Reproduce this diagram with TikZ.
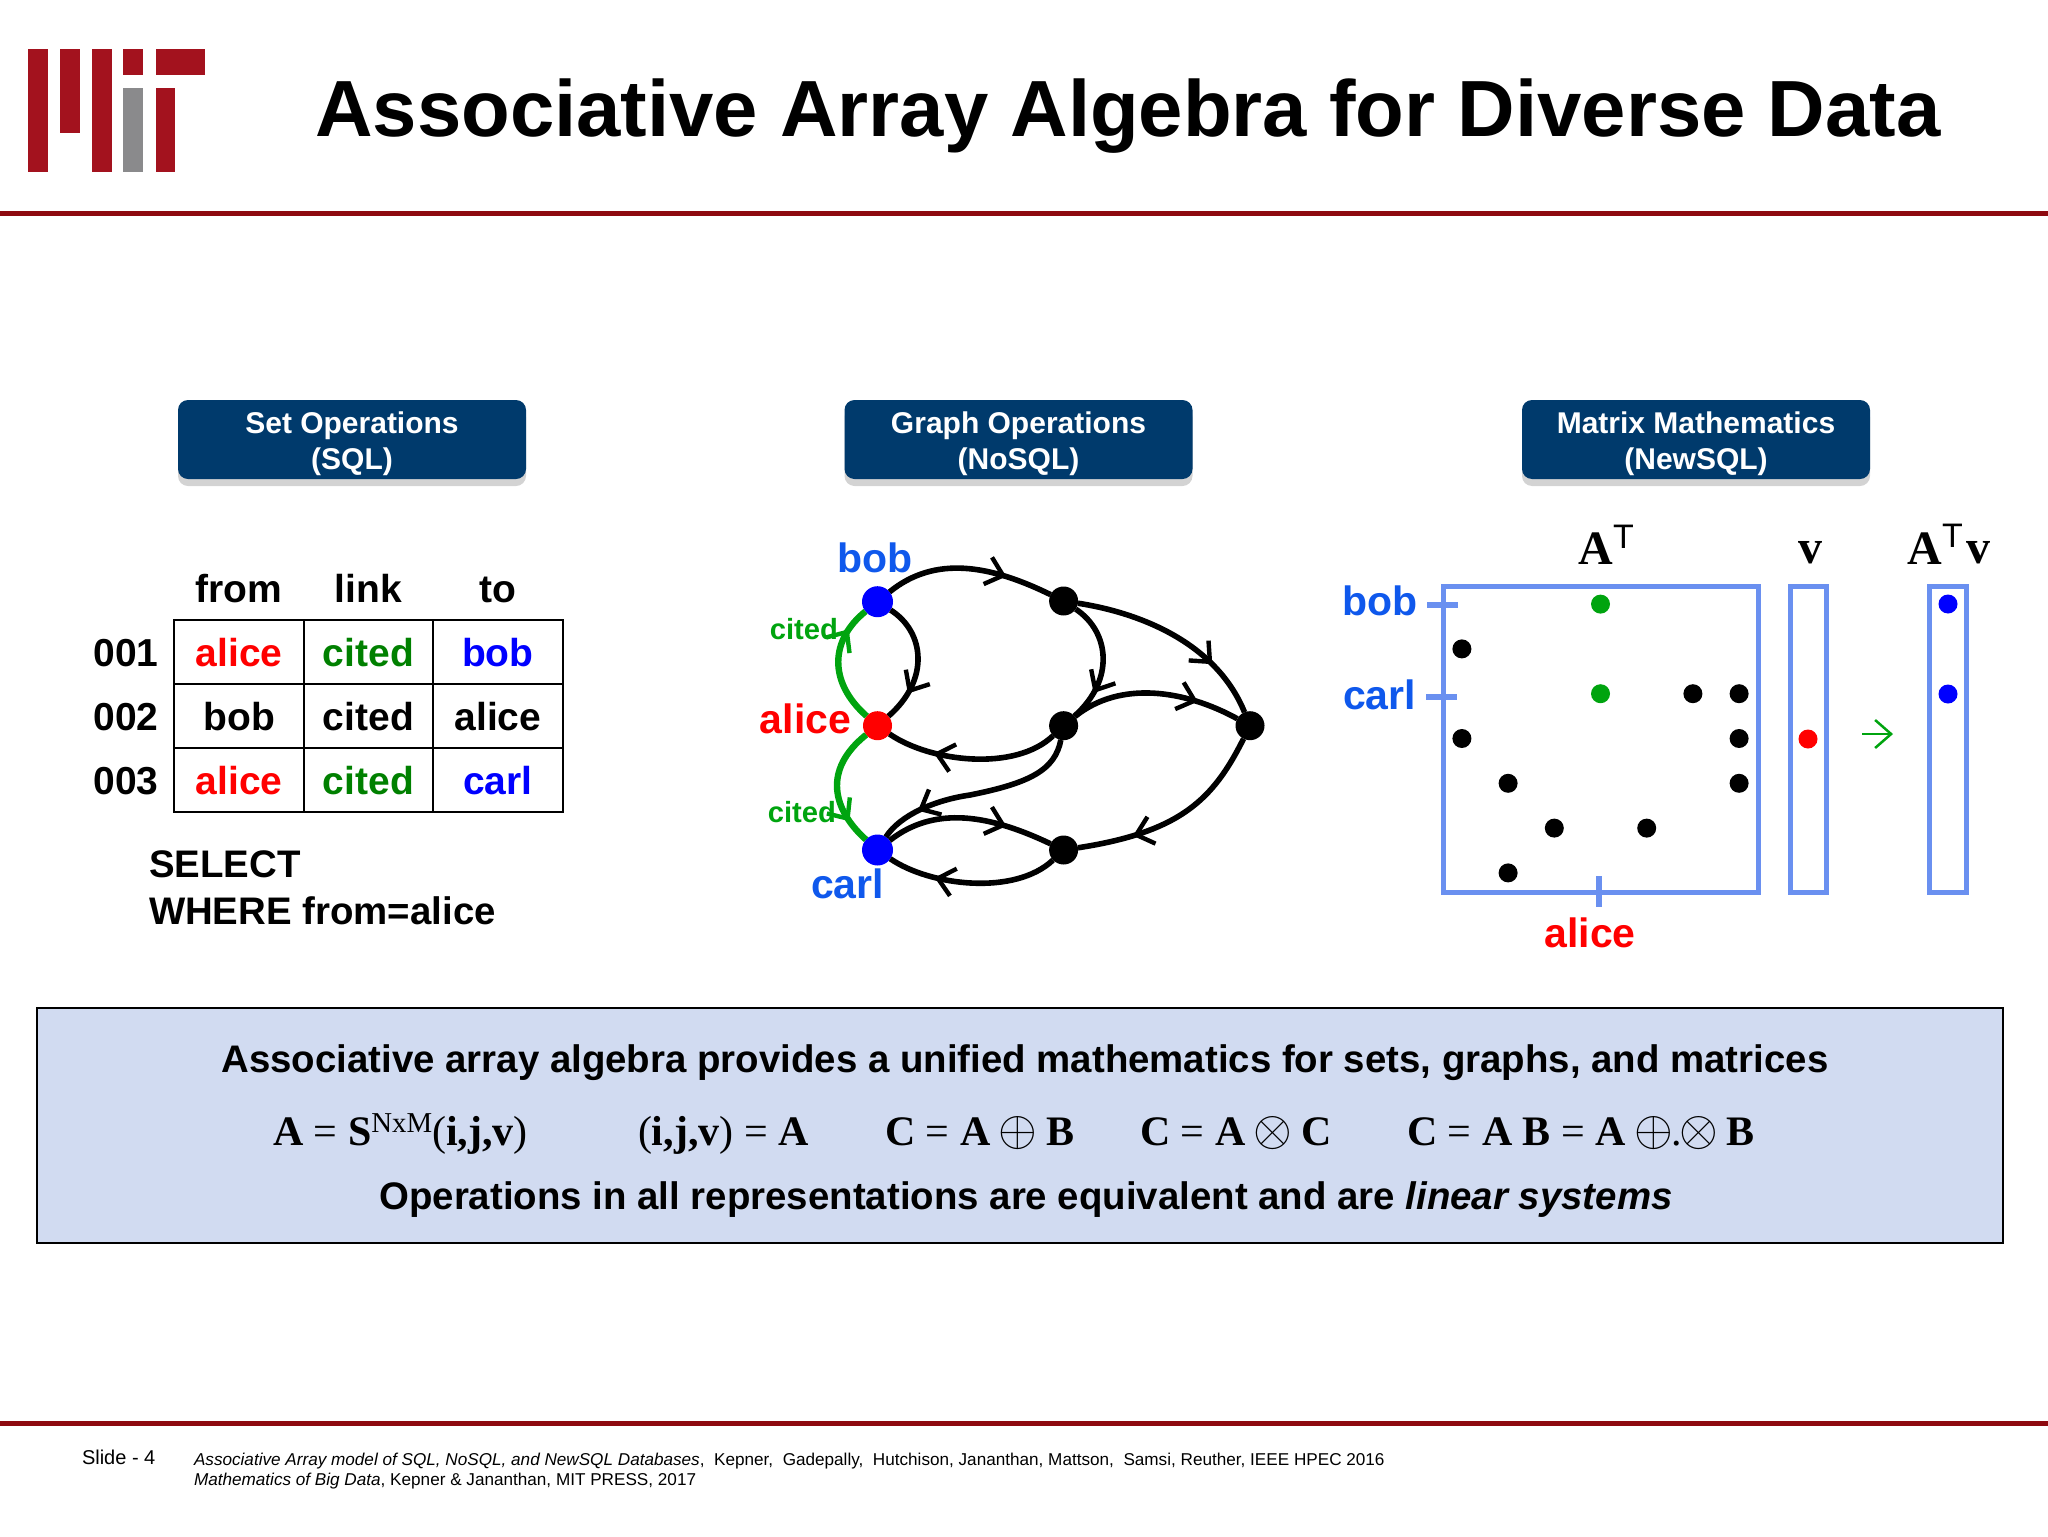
\documentclass[tikz,border=0pt]{standalone}
\usepackage{fontspec}
\setmainfont{Liberation Sans}
\newfontfamily\timesfam{Liberation Serif}
\usetikzlibrary{matrix,arrows.meta,decorations.markings,shadows}
\definecolor{mitred}{HTML}{A3121E}
\definecolor{mitgray}{HTML}{8A8A8C}
\definecolor{rulered}{HTML}{8E0A10}
\definecolor{boxnavy}{HTML}{003A6C}
\definecolor{panelblue}{HTML}{D1DBF1}
\definecolor{linkgreen}{HTML}{00A40F}
\definecolor{tablegreen}{HTML}{008000}
\definecolor{namesblue}{HTML}{0F58EC}
\definecolor{matblue}{HTML}{6A90F0}
\newcommand*\dotdiam{9.5pt}
\newcommand*\dotgapx{13.6pt}
\newcommand*\dotgapy{12.9pt}
\newcommand*\tablefont{\fontsize{19.5}{22}\selectfont\bfseries}
\newcommand*\queryfont{\fontsize{19.2}{22}\selectfont\bfseries}
\newcommand*\panelfont{\fontsize{19.2}{22}\selectfont\bfseries}
\newcommand*\namefont{\fontsize{20.5}{22}\selectfont\bfseries}
\newcommand*\citedfont{\fontsize{14.6}{16}\selectfont\bfseries}
\newcommand*\eqnfont{\timesfam\fontsize{21}{23}\selectfont}
\newcommand*\eqb[1]{\textbf{#1}}
\newcommand*\eqop[1]{\hspace{-1pt}\raisebox{-.4pt}{\scalebox{1.2}{$#1$}}\hspace{-1pt}}
\newcommand*\hdrstrut{\rule{0pt}{15pt}}
\tikzset{
    txt/.style        = {inner sep=0pt, outer sep=0pt},
    % table cells
    tablecell/.style  = {draw, line width=1pt, minimum width=64.7pt, minimum height=32pt,
                        inner sep=0pt, outer sep=0pt, text height=17pt, text depth=3pt,
                        font=\tablefont},
    tablematrix/.style = {
        matrix of nodes,
        nodes = {tablecell},
        column sep=-1pt, row sep=-1pt,
        inner sep=0pt, outer sep=0pt,
    },
    % sparse matrix dots
    cell/.style       = {circle, minimum size=\dotdiam, inner sep=0pt, outer sep=0pt},
    blackcell/.style  = {cell, fill=black},
    greencell/.style  = {cell, fill=linkgreen},
    redcell/.style    = {cell, fill=red},
    bluecell/.style   = {cell, fill=blue},
    dotmatrix/.style  = {
        matrix of nodes,
        nodes = {cell},
        column sep=\dotgapx, row sep=\dotgapy,
        inner sep=0pt, outer sep=0pt,
        nodes in empty cells,
    },
    % graph
    vertex/.style     = {circle, fill=black, minimum size=14.5pt, inner sep=0pt, outer sep=0pt},
    bigvertex/.style  = {vertex, fill=blue, minimum size=15.5pt},
    midarrow/.style   = {decoration={markings, mark=at position #1 with
                        {\arrow{Straight Barb[length=8pt,width=14pt,line width=2.2pt]}}},
                        postaction={decorate}},
    edge/.style       = {line width=2.8pt, midarrow=#1},
    greenedge/.style  = {line width=3.2pt, color=linkgreen, midarrow=#1},
    % headers and panels
    header/.style     = {rounded corners=5pt, fill=boxnavy, text=white, align=center,
                        minimum width=174pt, minimum height=39.5pt, inner sep=0pt,
                        font=\fontsize{15}{17.8}\selectfont\bfseries,
                        drop shadow={opacity=.35, shadow xshift=0pt, shadow yshift=-3.5pt}},
    matline/.style    = {draw=matblue, line width=2.5pt},
    mattick/.style    = {draw=matblue, line width=3pt},
}
\begin{document}
\begin{tikzpicture}[x=0.5pt,y=-0.5pt]
    \useasboundingbox (0,0) rectangle (2048,1536);

    % Logo bars
    \foreach \x/\yy/\w/\h/\c in {28/49/20/123/mitred, 60/49/20/84/mitred, 92/49/20/123/mitred,
                                 123/49/20/26/mitred, 156/49/49/26/mitred,
                                 123/88/20/84/mitgray, 156/88/19/84/mitred} {
        \fill[\c] (\x,\yy) rectangle ++(\w,\h);
    }
    % Title and rules
    \node[txt, anchor=base] (title) at (1128,136)
        {\fontsize{39.84}{44}\selectfont\bfseries Associative Array Algebra for Diverse Data};
    \fill[rulered] (0,210.5) rectangle (2048,215.5);
    \fill[rulered] (0,1420.5) rectangle (2048,1425.5);

    % Column headers
    \node[header] (sethdr)   at (352,439.5)  {\hdrstrut Set Operations\\(SQL)};
    \node[header] (graphhdr) at (1018.5,439.5) {\hdrstrut Graph Operations\\(NoSQL)};
    \node[header] (mathdr)   at (1696,439.5) {\hdrstrut Matrix Mathematics\\(NewSQL)};

    % Draw the 3x3 table and name it "T"
    \matrix (T) [tablematrix] at (368.5,716) {
        % row 1
        |[text=red]| alice & |[text=tablegreen]| cited & |[text=blue]| bob \\
        % row 2
        bob & cited & alice \\
        % row 3
        |[text=red]| alice & |[text=tablegreen]| cited & |[text=blue]| carl \\
    };

    % Column labels: attach ABOVE the north anchor of row 1 cells
    \foreach \c [count=\i from 1] in {from,link,to} {
        \node[txt, anchor=base, yshift=9pt, font=\tablefont] (col\i) at (T-1-\i.north) {\c};
    }

    % Row labels: attach LEFT of the base anchor of column 1 cells
    \foreach \r [count=\j from 1] in {001,002,003} {
        \node[txt, anchor=base east, xshift=-8pt, font=\tablefont] (row\j) at (T-\j-1.base west) {\r};
    }
    \node[txt, anchor=base west, font=\queryfont] (select) at (149,877) {SELECT};
    \node[txt, anchor=base west, font=\queryfont] (where)  at (149,924) {WHERE from=alice};

    % Graph vertices
    \node[bigvertex] (bob)   at (877.5,601.7) {};
    \node[vertex, fill=red] (alice) at (877.5,725.7) {};
    \node[bigvertex] (carl)  at (877.5,850) {};
    \node[vertex] (n1) at (1063.6,601) {};
    \node[vertex] (n2) at (1063.6,725.7) {};
    \node[vertex] (n3) at (1063.6,850) {};
    \node[vertex] (n4) at (1250,725.7) {};

    % Graph edges
    \draw[edge=.72] (bob) .. controls (935,555) and (990,565) .. (n1);
    \draw[edge=.76] (bob) .. controls (925,632) and (930,680) .. (alice);
    \draw[edge=.72] (n2) .. controls (1015,772) and (930,762) .. (alice);
    \draw[edge=.76] (n1) .. controls (1110,632) and (1115,680) .. (n2);
    \draw[edge=.75] (n2) .. controls (1120,680) and (1185,690) .. (n4);
    \draw[edge=.72] (n1) .. controls (1135,612) and (1215,640) .. (n4);
    \draw[edge=.8] (n2) .. controls (1055,770) and (1030,783) .. (970,795)
                         .. controls (935,800) and (900,815) .. (carl);
    \draw[edge=.72] (carl) .. controls (935,805) and (990,815) .. (n3);
    \draw[edge=.72] (n3) .. controls (1015,896) and (930,886) .. (carl);
    \draw[edge=.73]  (n4) .. controls (1213,800) and (1180,832) .. (n3);
    \draw[greenedge=.8] (alice) .. controls (828,682) and (830,640) .. (bob);
    \draw[greenedge=.8] (alice) .. controls (822,770) and (833,810) .. (carl);

    % Graph labels
    \node[txt, anchor=base, text=namesblue, font=\namefont] (boblbl) at (875,572) {bob};
    \node[txt, anchor=base east, text=red, font=\namefont] (alicelbl) at (851,733) {alice};
    \node[txt, anchor=base east, text=namesblue, font=\namefont] (carllbl) at (884,898) {carl};
    \node[txt, anchor=base east, text=linkgreen, font=\citedfont] (citedup) at (838,639) {cited};
    \node[txt, anchor=base east, text=linkgreen, font=\citedfont] (citeddown) at (836,822) {cited};

    % Array boxes
    \draw[matline] (1443.6,586) rectangle (1758,892);
    \draw[matline] (1790,586) rectangle (1826,892);
    \draw[matline] (1929,586) rectangle (1966,892);
    \draw[mattick] (1427,605) -- (1457.5,605);
    \draw[mattick] (1426,697) -- (1457,697);
    \draw[mattick] (1599,876) -- (1599,907);

    % Draw the 7x7 sparse matrix and name it "M"
    \matrix (M) [dotmatrix] at (1600.5,738.5) {
        % row 1
        & & & |[greencell]| & & & \\
        % row 2
        |[blackcell]| & & & & & & \\
        % row 3
        & & & |[greencell]| & & |[blackcell]| & |[blackcell]| \\
        % row 4
        |[blackcell]| & & & & & & |[blackcell]| \\
        % row 5
        & |[blackcell]| & & & & & |[blackcell]| \\
        % row 6
        & & |[blackcell]| & & |[blackcell]| & & \\
        % row 7
        & |[blackcell]| & & & & & \\
    };
    \node[redcell]  (vdot)  at (1808,739) {};
    \node[bluecell] (res1)  at (1948,604) {};
    \node[bluecell] (res2)  at (1948,694) {};
    \coordinate (arrowtail) at (1862,734);
    \coordinate (arrowhead) at (1893,734);
    \draw[linkgreen, line width=1.25pt, -{Straight Barb[length=8pt,width=14pt,line width=1.25pt]}] (arrowtail) -- (arrowhead);

    % Array labels
    \node[txt, anchor=base east, text=namesblue, font=\namefont] (mbob)  at (1418,615) {bob};
    \node[txt, anchor=base east, text=namesblue, font=\namefont] (mcarl) at (1416,709) {carl};
    \node[txt, anchor=base, text=red, font=\namefont] (malice) at (1590,947) {alice};
    \node[txt, anchor=base west, font=\timesfam\fontsize{24}{26}\selectfont\bfseries] (amat) at (1578,564) {A};
    \node[txt, anchor=base west, font=\fontsize{17}{18}\selectfont] (atee) at (1613,548) {T};
    \node[txt, anchor=base west, font=\timesfam\fontsize{24}{26}\selectfont\bfseries] (vvec) at (1798.6,563) {v};
    \node[txt, anchor=base west, font=\timesfam\fontsize{24}{26}\selectfont\bfseries] (amatb) at (1907,564) {A};
    \node[txt, anchor=base west, font=\fontsize{17}{18}\selectfont] (ateeb) at (1942,547) {T};
    \node[txt, anchor=base west, font=\timesfam\fontsize{24}{26}\selectfont\bfseries] (vvecb) at (1966,563) {v};

    % Summary panel
    \fill[panelblue, draw=black, line width=1pt] (37,1008) rectangle (2003,1243);
    \node[txt, anchor=base, font=\panelfont] (sumtop) at (1025,1072)
        {Associative array algebra provides a unified mathematics for sets, graphs, and matrices};
    \node[txt, anchor=base west, font=\eqnfont] (eq1) at (273,1145)
        {\eqb{A} = \eqb{S}\raisebox{6.5pt}{\fontsize{14.4}{15}\selectfont NxM}(\eqb{i,j,v})};
    \node[txt, anchor=base west, font=\eqnfont] (eq2) at (638,1145) {(\eqb{i,j,v}) = \eqb{A}};
    \node[txt, anchor=base west, font=\eqnfont] (eq3) at (885,1145) {\eqb{C} = \eqb{A} \eqop{\oplus} \eqb{B}};
    \node[txt, anchor=base west, font=\eqnfont] (eq4) at (1140,1145) {\eqb{C} = \eqb{A} \eqop{\otimes} \eqb{C}};
    \node[txt, anchor=base west, font=\eqnfont] (eq5) at (1407,1145)
        {\eqb{C} = \eqb{A} \eqb{B} = \eqb{A} \eqop{\oplus}.\eqop{\otimes} \eqb{B}};
    \node[txt, anchor=base, font=\panelfont] (sumbot) at (1026,1209)
        {Operations in all representations are equivalent and are \textit{linear systems}};

    % Footer
    \node[txt, anchor=base west, font=\fontsize{10}{12}\selectfont] (slideno) at (82,1464) {Slide - 4};
    \node[txt, anchor=base west, font=\fontsize{8.57}{10}\selectfont] (ref1) at (194,1465)
        {\textit{Associative Array model of SQL, NoSQL, and NewSQL Databases},\ \ Kepner,\ \ Gadepally,\ \ Hutchison, Jananthan, Mattson,\ \ Samsi, Reuther, IEEE HPEC 2016};
    \node[txt, anchor=base west, font=\fontsize{8.57}{10}\selectfont] (ref2) at (194,1485)
        {\textit{Mathematics of Big Data}, Kepner \& Jananthan, MIT PRESS, 2017};
\end{tikzpicture}
\end{document}
